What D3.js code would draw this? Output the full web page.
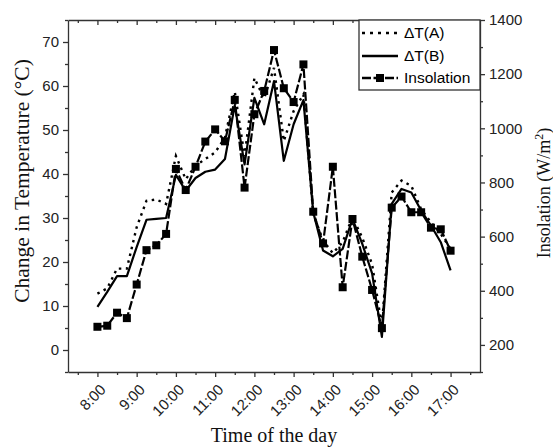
<!DOCTYPE html>
<html>
<head>
<meta charset="utf-8">
<script src="https://cdn.jsdelivr.net/npm/d3@7"></script>
<style>
  body { margin: 0; background: #fff; }
  svg { display: block; }
  .tick text { font-family: "Liberation Sans", Arial, sans-serif; font-size: 15px; fill: #222; }
  .axis path, .axis line { stroke: #333; stroke-width: 1.3px; }
  .title { font-family: "Liberation Serif", "Times New Roman", serif; fill: #111; }
</style>
</head>
<body>
<svg id="chart" width="553" height="448"></svg>
<script>
// time of day in hours, every 15 minutes
var hours = [8, 8.25, 8.5, 8.75, 9, 9.25, 9.5, 9.75, 10, 10.25, 10.5, 10.75, 11, 11.25, 11.5, 11.75,
             12, 12.25, 12.5, 12.75, 13, 13.25, 13.5, 13.75, 14, 14.25, 14.5, 14.75, 15, 15.25, 15.5, 15.75,
             16, 16.25, 16.5, 16.75, 17];
var deltaTA = [12.8, 14.0, 18.5, 18.5, 27.9, 33.9, 34.2, 33.2, 44.1, 38.8, 41.9, 43.4, 44.9, 48.3, 58.7, 44.0,
               61.8, 57.2, 64.1, 47.5, 54.3, 58.1, 30.9, 24.9, 22.0, 24.5, 30.2, 25.5, 19.5, 5.3, 35.8, 38.5,
               37.3, 32.0, 29.0, 26.4, 23.0];
var deltaTB = [9.8, 13.2, 16.8, 16.8, 23.4, 29.6, 29.8, 30.0, 39.8, 36.2, 39.1, 40.5, 41.0, 43.4, 55.6, 42.2,
               57.3, 51.3, 61.1, 43.0, 51.3, 56.8, 31.3, 22.6, 21.3, 23.0, 29.8, 24.1, 17.4, 3.0, 33.2, 36.6,
               35.8, 31.7, 28.3, 24.5, 18.1];
var insolation = [267, 271, 319, 299, 423, 550, 568, 610, 850, 772, 858, 951, 996, 952, 1105, 781,
                  1052, 1138, 1289, 1148, 1097, 1236, 692, 575, 858, 413, 665, 526, 403, 262, 707, 748,
                  690, 690, 633, 627, 548];
var hourTicks = [8, 9, 10, 11, 12, 13, 14, 15, 16, 17];
var hourLabels = ["8:00", "9:00", "10:00", "11:00", "12:00", "13:00", "14:00", "15:00", "16:00", "17:00"];
var halfTicks = [7.5, 8.5, 9.5, 10.5, 11.5, 12.5, 13.5, 14.5, 15.5, 16.5, 17.5];
var tempTicks = [0, 10, 20, 30, 40, 50, 60, 70];
var tempMinor = [-5, 5, 15, 25, 35, 45, 55, 65, 75];
var insTicks = [200, 400, 600, 800, 1000, 1200, 1400];
var insMinor = [100, 300, 500, 700, 900, 1100, 1300];
var seriesNames = ["\u0394T(A)", "\u0394T(B)", "Insolation"];

var svg = d3.select("#chart");
var pLeft = 68, pRight = 480, pTop = 20, pBottom = 372;

var x = d3.scaleLinear().domain([7.25, 17.75]).range([pLeft, pRight]);
var y = d3.scaleLinear().domain([-5, 75]).range([pBottom, pTop]);
var y2 = d3.scaleLinear().domain([100, 1400]).range([pBottom, pTop]);

// bottom axis
var gx = svg.append("g").attr("class", "axis").attr("transform", "translate(0," + pBottom + ")")
    .call(d3.axisBottom(x).tickValues(hourTicks).tickSize(5).tickSizeOuter(0)
        .tickFormat(function(d, i) { return hourLabels[i]; }));
gx.selectAll(".tick text")
    .attr("text-anchor", "end")
    .attr("y", 0).attr("dy", "0.35em")
    .attr("transform", "translate(5,15) rotate(-45)");
svg.append("g").attr("class", "axis").attr("transform", "translate(0," + pBottom + ")")
    .call(d3.axisBottom(x).tickValues(halfTicks).tickSize(3).tickFormat(""))
    .select(".domain").remove();

// top mirror, ticks pointing inward
svg.append("g").attr("class", "axis").attr("transform", "translate(0," + pTop + ")")
    .call(d3.axisBottom(x).tickValues(hourTicks).tickSize(5).tickSizeOuter(0).tickFormat(""));
svg.append("g").attr("class", "axis").attr("transform", "translate(0," + pTop + ")")
    .call(d3.axisBottom(x).tickValues(halfTicks).tickSize(3).tickFormat(""))
    .select(".domain").remove();

// left axis
svg.append("g").attr("class", "axis").attr("transform", "translate(" + pLeft + ",0)")
    .call(d3.axisLeft(y).tickValues(tempTicks).tickSize(5).tickSizeOuter(0).tickPadding(4));
svg.append("g").attr("class", "axis").attr("transform", "translate(" + pLeft + ",0)")
    .call(d3.axisLeft(y).tickValues(tempMinor).tickSize(3).tickFormat(""))
    .select(".domain").remove();

// right axis
svg.append("g").attr("class", "axis").attr("transform", "translate(" + pRight + ",0)")
    .call(d3.axisRight(y2).tickValues(insTicks).tickSize(5).tickSizeOuter(0).tickPadding(4)
        .tickFormat(d3.format("d")));
svg.append("g").attr("class", "axis").attr("transform", "translate(" + pRight + ",0)")
    .call(d3.axisRight(y2).tickValues(insMinor).tickSize(3).tickFormat(""))
    .select(".domain").remove();

var plot = svg.append("g");

var lineT = d3.line().x(function(d, i) { return x(hours[i]); }).y(function(d) { return y(d); });
var lineIns = d3.line().x(function(d, i) { return x(hours[i]); }).y(function(d) { return y2(d); });

plot.append("path").datum(deltaTA).attr("d", lineT)
    .attr("fill", "none").attr("stroke", "#000").attr("stroke-width", 2.4)
    .attr("stroke-dasharray", "2.5,4.5");
plot.append("path").datum(deltaTB).attr("d", lineT)
    .attr("fill", "none").attr("stroke", "#000").attr("stroke-width", 2.2)
    .attr("stroke-linejoin", "round");
plot.append("path").datum(insolation).attr("d", lineIns)
    .attr("fill", "none").attr("stroke", "#000").attr("stroke-width", 2.2)
    .attr("stroke-dasharray", "9,2.5");
plot.selectAll(".sq").data(insolation).enter().append("rect")
    .attr("class", "sq")
    .attr("x", function(d, i) { return x(hours[i]) - 4; })
    .attr("y", function(d) { return y2(d) - 4; })
    .attr("width", 8).attr("height", 8).attr("fill", "#000");

// legend
var lg = svg.append("g");
lg.append("rect").attr("x", 359).attr("y", pTop).attr("width", pRight - 359).attr("height", 70)
    .attr("fill", "#fff").attr("stroke", "#333").attr("stroke-width", 1.3);
var rows = [33, 56, 78];
var dashes = ["3,5", null, "9,2.5"];
seriesNames.forEach(function(name, i) {
    var ln = lg.append("line").attr("x1", 362).attr("x2", 398).attr("y1", rows[i]).attr("y2", rows[i])
        .attr("stroke", "#000").attr("stroke-width", 2.4);
    if (dashes[i]) ln.attr("stroke-dasharray", dashes[i]);
    if (i == 2) lg.append("rect").attr("x", 376).attr("y", rows[i] - 4).attr("width", 8).attr("height", 8).attr("fill", "#000");
    lg.append("text").attr("x", 404).attr("y", rows[i]).attr("dy", "0.35em")
        .style("font-family", "Liberation Sans, Arial, sans-serif").style("font-size", "15.5px")
        .text(name);
});

// titles
svg.append("text").attr("class", "title").attr("text-anchor", "middle").style("font-size", "21.5px")
    .attr("transform", "translate(29,181) rotate(-90)").text("Change in Temperature (\u00B0C)");
var t2 = svg.append("text").attr("class", "title").attr("text-anchor", "middle").style("font-size", "18px")
    .attr("transform", "translate(550,193) rotate(-90)");
t2.append("tspan").text("Insolation (W/m");
t2.append("tspan").attr("dy", "-7").style("font-size", "12px").text("2");
t2.append("tspan").attr("dy", "7").text(")");
svg.append("text").attr("class", "title").attr("text-anchor", "middle").style("font-size", "20px")
    .attr("x", 274).attr("y", 442).text("Time of the day");
</script>
</body>
</html>
